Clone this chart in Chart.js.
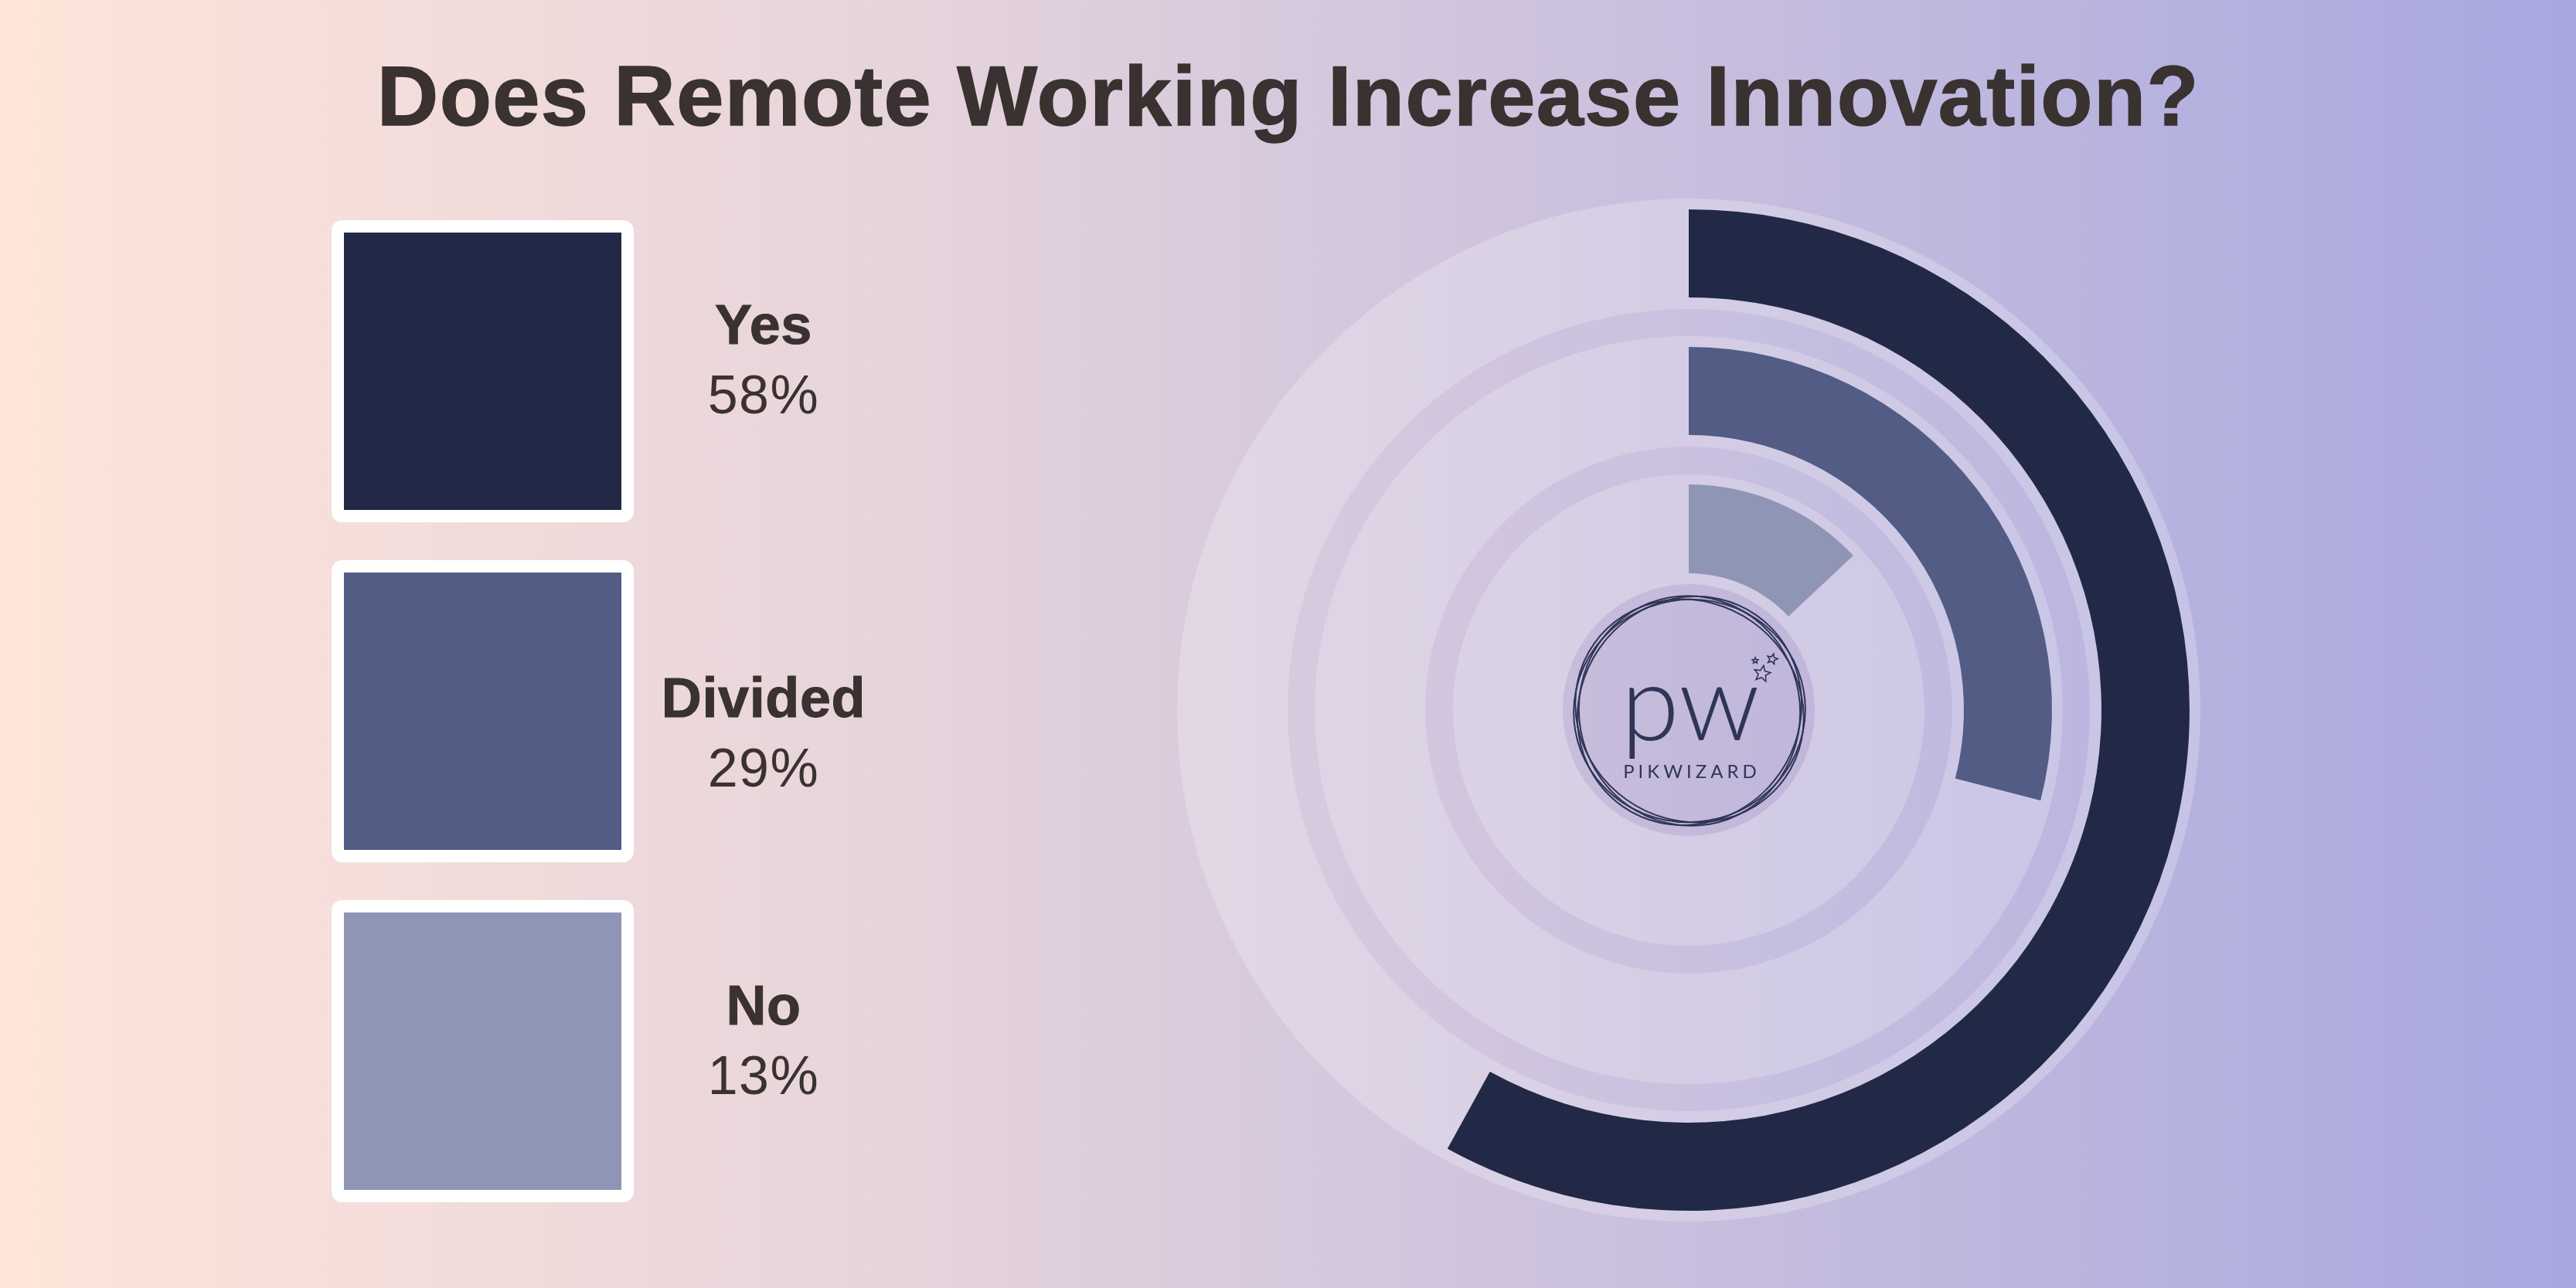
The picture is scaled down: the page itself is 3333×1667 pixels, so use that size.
<!DOCTYPE html>
<html lang="en">
<head>
<meta charset="UTF-8">
<title>Does Remote Working Increase Innovation?</title>
<script src="https://cdn.jsdelivr.net/npm/chart.js"></script>
<style>
  html, body { margin: 0; padding: 0; }
  body { width: 3333px; height: 1667px; position: relative; overflow: hidden; background: linear-gradient(90deg, #ffe5d9 0%, #e6d4dc 35%, #d7c9dd 50%, #a8a8e0 100%); }
  canvas { position: absolute; left: 1523px; top: 257px; }
  svg { position: absolute; left: 0; top: 0; }
  text { font-family: "Liberation Sans", sans-serif; fill: #3a3230; }
</style>
</head>
<body>
<canvas id="tracks" width="1324" height="1324"></canvas>
<canvas id="bars" width="1324" height="1324"></canvas>
<svg id="overlay" width="3333" height="1667" xmlns="http://www.w3.org/2000/svg"></svg>

<script>
const chartTitle = 'Does Remote Working Increase Innovation?';
const categories = ['Yes', 'Divided', 'No'];
const values = [58, 29, 13];
const colors = ['#212947', '#525c85', '#8e95b5'];

// ring widths in px, outer to inner. total radius is 662
const trackWidths = [143, 35, 143, 36, 142, 163];
const barWidths = [14, 114, 64, 114, 64, 115, 177];

const trackLight = 'rgba(255,255,255,0.23)';
const trackGap = 'rgba(255,255,255,0.03)';
const logoDisc = 'rgba(110,90,170,0.05)';

function ring(color, weight) {
  return { data: [1], backgroundColor: [color], borderWidth: 0, weight };
}

function doughnut(id, datasets) {
  return new Chart(document.getElementById(id), {
    type: 'doughnut',
    data: { datasets },
    options: {
      responsive: false,
      animation: false,
      cutout: 0,
      plugins: { legend: { display: false }, tooltip: { enabled: false } },
    },
  });
}

// background rings, the last one sits behind the logo
doughnut('tracks', trackWidths.map((w, i) => {
  if (i === trackWidths.length - 1) return ring(logoDisc, w);
  return ring(i % 2 === 0 ? trackLight : trackGap, w);
}));

// value rings, with empty rings between them
const barSets = barWidths.map((w, i) => {
  if (i % 2 === 0) return ring('rgba(0,0,0,0)', w);
  const k = (i - 1) / 2;
  return {
    label: categories[k],
    data: [values[k], 100 - values[k]],
    backgroundColor: [colors[k], 'rgba(0,0,0,0)'],
    borderWidth: 0,
    weight: w,
  };
});
doughnut('bars', barSets);

// title, legend and logo
const swatchTops = [285, 725, 1165];
const labelBase = [445, 928, 1326];
const pctBase = [535, 1018, 1416];
const svg = document.getElementById('overlay');
let out = `<text x="1667" y="162" text-anchor="middle" font-size="110" font-weight="700" letter-spacing="1.4" stroke="#3a3230" stroke-width="1.5">${chartTitle}</text>`;

categories.forEach((name, i) => {
  const y = swatchTops[i];
  out += `<rect x="429" y="${y}" width="391" height="391" rx="14" fill="#fff"/>`;
  out += `<rect x="445" y="${y + 16}" width="359" height="359" fill="${colors[i]}"/>`;
  out += `<text x="988" y="${labelBase[i]}" text-anchor="middle" font-size="72" font-weight="700" letter-spacing="0.6" stroke="#3a3230" stroke-width="1">${name}</text>`;
  out += `<text x="988" y="${pctBase[i]}" text-anchor="middle" font-size="70" letter-spacing="1.5">${values[i]}%</text>`;
});

function star(cx, cy, r, rot) {
  const pts = [];
  for (let i = 0; i < 10; i++) {
    const a = (i * 36 + rot - 90) * Math.PI / 180;
    const d = i % 2 ? r * 0.45 : r;
    pts.push((cx + d * Math.cos(a)).toFixed(1) + ',' + (cy + d * Math.sin(a)).toFixed(1));
  }
  return `<polygon points="${pts.join(' ')}" fill="none" stroke="#2f3557" stroke-width="1.6"/>`;
}

const logoRings = [[151, 141, 35], [149, 143, 80], [151, 142, 125], [150, 144, 170]];
logoRings.forEach(r => {
  out += `<ellipse cx="2186" cy="920" rx="${r[0]}" ry="${r[1]}" transform="rotate(${r[2]} 2186 920)" fill="none" stroke="#2f3557" stroke-width="2"/>`;
});
out += star(2280, 872, 11, 10) + star(2293, 853, 7, 15) + star(2271, 855, 4, 0);
out += `<text x="2187" y="958" text-anchor="middle" font-size="137" font-weight="300" style="font-family:Lato;fill:#2f3557">pw</text>`;
out += `<text x="2189" y="1007" text-anchor="middle" font-size="24" letter-spacing="5" style="font-family:Lato;fill:#2f3557">PIKWIZARD</text>`;
svg.innerHTML = out;
</script>
</body>
</html>
